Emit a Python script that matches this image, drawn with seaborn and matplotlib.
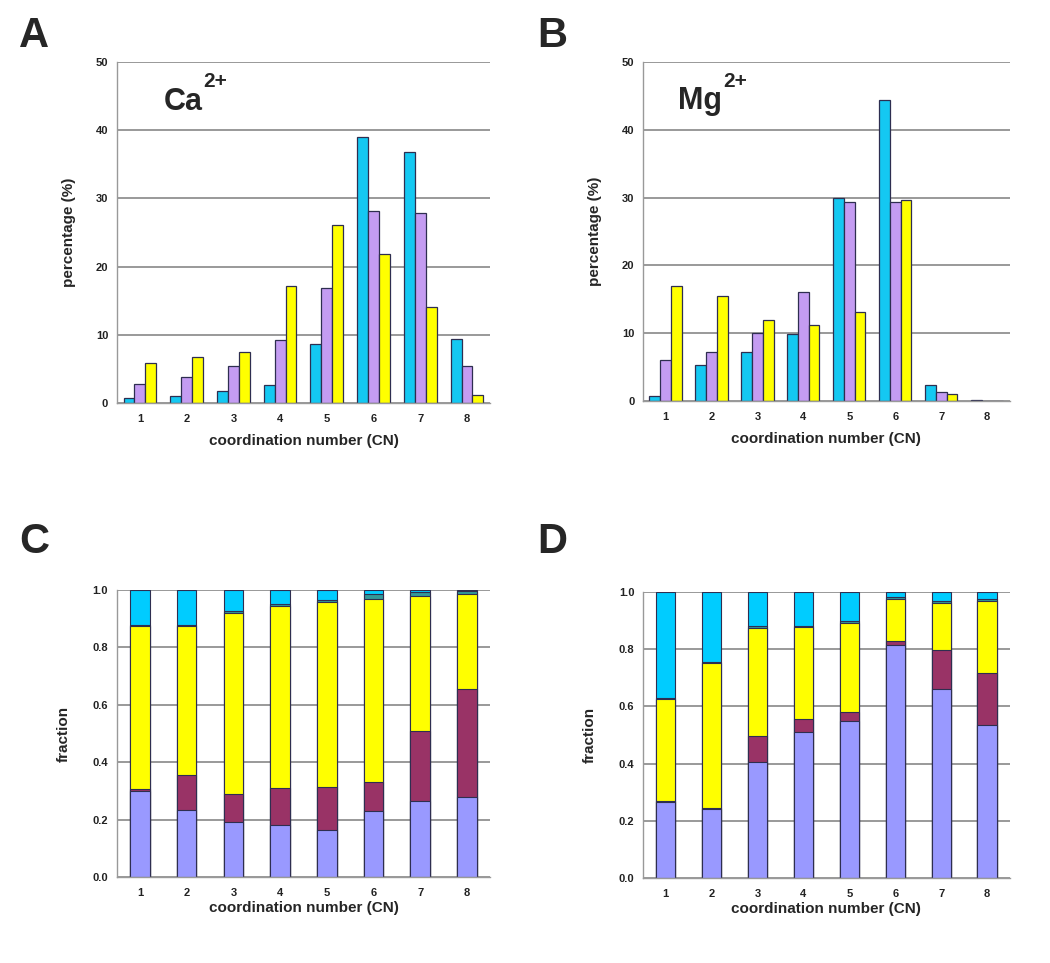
import numpy as np
import pandas as pd
import matplotlib
matplotlib.use("Agg")
import matplotlib.pyplot as plt
import seaborn as sns

sns.set_theme(style="white")
plt.rcParams['font.family'] = ['Liberation Sans', 'DejaVu Sans']

cn = ["1", "2", "3", "4", "5", "6", "7", "8"]

# Panel A (Ca2+), percentage
ca_cyan = [0.8, 1.1, 1.8, 2.7, 8.6, 39.0, 36.8, 9.4]
ca_purple = [2.8, 3.8, 5.4, 9.3, 16.9, 28.2, 27.9, 5.5]
ca_yellow = [5.9, 6.7, 7.5, 17.1, 26.1, 21.9, 14.1, 1.2]

# Panel B (Mg2+), percentage
mg_cyan = [0.7, 5.3, 7.2, 9.9, 30.0, 44.4, 2.4, 0.1]
mg_purple = [6.1, 7.2, 10.1, 16.1, 29.4, 29.4, 1.4, 0.05]
mg_yellow = [16.9, 15.5, 12.0, 11.2, 13.2, 29.6, 1.1, 0.05]

# Panel C (Ca2+), fractions bottom -> top
c_lav = [0.30, 0.235, 0.19, 0.18, 0.165, 0.23, 0.265, 0.28]
c_plum = [0.005, 0.12, 0.10, 0.13, 0.15, 0.10, 0.245, 0.375]
c_yel = [0.57, 0.52, 0.63, 0.635, 0.645, 0.64, 0.47, 0.33]
c_teal = [0.003, 0.003, 0.006, 0.006, 0.005, 0.015, 0.012, 0.01]
c_cyan = [0.122, 0.122, 0.074, 0.049, 0.035, 0.015, 0.008, 0.005]

# Panel D (Mg2+), fractions bottom -> top
d_lav = [0.265, 0.24, 0.405, 0.51, 0.55, 0.815, 0.66, 0.535]
d_plum = [0.003, 0.006, 0.09, 0.047, 0.032, 0.014, 0.136, 0.18]
d_yel = [0.357, 0.506, 0.38, 0.32, 0.31, 0.148, 0.167, 0.255]
d_teal = [0.003, 0.003, 0.005, 0.005, 0.005, 0.006, 0.007, 0.006]
d_cyan = [0.372, 0.245, 0.12, 0.118, 0.103, 0.017, 0.03, 0.024]

group_colors = ["#14C8F2", "#C49CF2", "#FFFF00"]
stack_colors = ["#9999FF", "#993366", "#FFFF00", "#339999", "#00CCFF"]
edge = "#2E2E50"

fig = plt.figure(figsize=(10.5, 9.63), dpi=100)
axA = fig.add_axes([0.111, 0.5815, 0.356, 0.354])
axB = fig.add_axes([0.612, 0.5836, 0.350, 0.352])
axC = fig.add_axes([0.111, 0.0893, 0.356, 0.298])
axD = fig.add_axes([0.612, 0.0883, 0.350, 0.297])


def style_axes(ax, ylim, yticks, yfmt):
    ax.set_xlim(-0.5, 7.5)
    ax.set_ylim(*ylim)
    ax.set_yticks(yticks)
    ax.set_yticklabels([yfmt.format(v) for v in yticks], fontsize=8, fontweight='bold', color='#222222')
    ax.set_xticks(range(8))
    ax.set_xticklabels(cn, fontsize=8, fontweight='bold', color='#222222')
    ax.set_xticks(np.arange(-0.5, 8, 1), minor=True)
    ax.tick_params(axis='x', which='major', length=0, pad=8)
    ax.tick_params(axis='x', which='minor', length=3, direction='out', color='#888888', width=0.8)
    ax.tick_params(axis='y', which='major', length=4, direction='out', color='#888888', width=0.8, pad=2)
    ax.yaxis.grid(True, color='#888888', linewidth=1.2)
    ax.set_axisbelow(True)
    for s in ['top', 'right']:
        ax.spines[s].set_visible(False)
    ax.spines['left'].set_color('#999999')
    ax.spines['bottom'].set_color('#999999')
    ax.spines['left'].set_linewidth(1.0)
    ax.spines['bottom'].set_linewidth(1.0)


def grouped(ax, s1, s2, s3):
    df = pd.DataFrame({
        "cn": cn * 3,
        "val": list(s1) + list(s2) + list(s3),
        "series": ["a"] * 8 + ["b"] * 8 + ["c"] * 8,
    })
    sns.barplot(data=df, x="cn", y="val", hue="series", palette=group_colors,
                width=0.7, gap=0, edgecolor=edge, linewidth=0.9, ax=ax,
                legend=False, saturation=1)
    style_axes(ax, (0, 50), [0, 10, 20, 30, 40, 50], "{:d}")
    ax.set_ylabel("percentage (%)", fontsize=11, fontweight='bold', labelpad=14)
    ax.set_xlabel("coordination number (CN)", fontsize=11, fontweight='bold', labelpad=7)


def stacked(ax, layers):
    cums = np.cumsum(np.array(layers), axis=0)
    for i in range(len(layers) - 1, -1, -1):
        df = pd.DataFrame({"cn": cn, "val": cums[i]})
        sns.barplot(data=df, x="cn", y="val", color=stack_colors[i], width=0.42,
                    edgecolor=edge, linewidth=0.8, ax=ax, saturation=1)
    style_axes(ax, (0, 1.0), [0.0, 0.2, 0.4, 0.6, 0.8, 1.0], "{:.1f}")
    ax.set_ylabel("fraction", fontsize=11, fontweight='bold', labelpad=16)
    ax.set_xlabel("coordination number (CN)", fontsize=11, fontweight='bold', labelpad=2)


grouped(axA, ca_cyan, ca_purple, ca_yellow)
grouped(axB, mg_cyan, mg_purple, mg_yellow)
stacked(axC, [c_lav, c_plum, c_yel, c_teal, c_cyan])
stacked(axD, [d_lav, d_plum, d_yel, d_teal, d_cyan])

for ax, base, x in [(axA, "Ca", 0.125), (axB, "Mg", 0.095)]:
    t = ax.text(x, 0.86, base, transform=ax.transAxes, fontsize=22,
                fontweight='bold', va='baseline', ha='left')
    ax.annotate("2+", xy=(1.0, 1.0), xycoords=t, xytext=(1, -3),
                textcoords='offset points', fontsize=15, fontweight='bold',
                va='bottom', ha='left')

for lbl, x, y in [("A", 0.018, 0.963), ("B", 0.512, 0.963), ("C", 0.018, 0.437), ("D", 0.512, 0.437)]:
    fig.text(x, y, lbl, fontsize=30, fontweight='bold', ha='left', va='center')

fig.savefig("out.png", dpi=100, facecolor='white')
